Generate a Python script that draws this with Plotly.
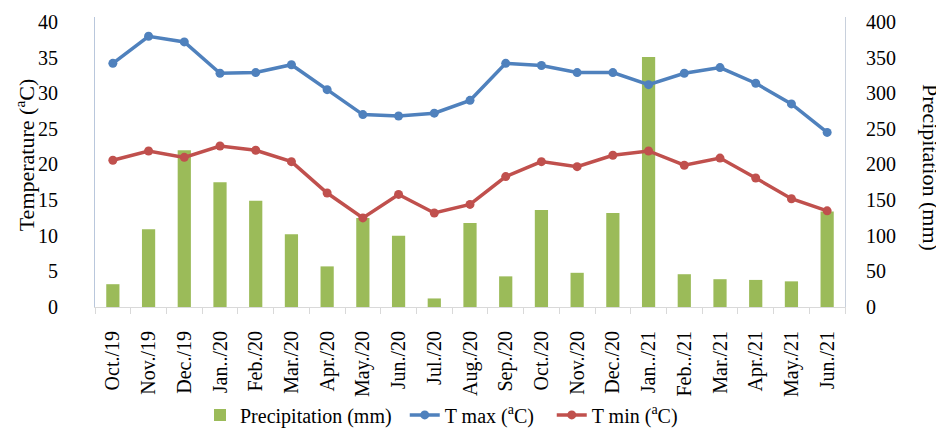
import plotly.graph_objects as go

months = ["Oct./19", "Nov./19", "Dec./19", "Jan../20", "Feb./20", "Mar./20", "Apr./20",
          "May./20", "Jun./20", "Jul./20", "Aug./20", "Sep./20", "Oct./20", "Nov./20",
          "Dec./20", "Jan../21", "Feb../21", "Mar./21", "Apr./21", "May./21", "Jun./21"]
precip = [32, 109, 220, 175, 149, 102, 57, 125, 100, 12, 118, 43, 136, 48, 132, 351,
          46, 39, 38, 36, 134]
tmax = [34.2, 38.0, 37.2, 32.8, 32.9, 34.0, 30.5, 27.0, 26.8, 27.2, 29.0, 34.2, 33.9,
        32.9, 32.9, 31.2, 32.8, 33.6, 31.4, 28.5, 24.5]
tmin = [20.6, 21.9, 21.0, 22.6, 22.0, 20.4, 16.0, 12.5, 15.8, 13.2, 14.4, 18.3, 20.4,
        19.7, 21.3, 21.9, 19.9, 20.9, 18.1, 15.2, 13.5]
temp_ticks = [0, 5, 10, 15, 20, 25, 30, 35, 40]
precip_ticks = [0, 50, 100, 150, 200, 250, 300, 350, 400]

FONT = "Liberation Serif"

fig = go.Figure()
fig.add_trace(go.Bar(x=months, y=precip, name="Precipitation (mm)",
                     marker=dict(color="#9BBB59", line=dict(width=0)), yaxis="y",
                     legend="legend"))
fig.add_trace(go.Scatter(x=months, y=tmax, name="T max (<sup>a</sup>C)", mode="lines+markers",
                         line=dict(color="#4F81BD", width=3.5),
                         marker=dict(size=9, color="#4F81BD"), yaxis="y2",
                         legend="legend2"))
fig.add_trace(go.Scatter(x=months, y=tmin, name="T min (<sup>a</sup>C)", mode="lines+markers",
                         line=dict(color="#C0504D", width=3.5),
                         marker=dict(size=9, color="#C0504D"), yaxis="y2",
                         legend="legend3"))

leg_common = dict(orientation="h", xanchor="left", y=-0.372, yanchor="middle",
                  font=dict(family=FONT, size=20), bgcolor="rgba(0,0,0,0)")

fig.update_layout(
    # page body has an 8px default margin; figure sized/offset to compensate
    width=936, height=425,
    margin=dict(l=87, r=99, t=9, b=126, autoexpand=False),
    paper_bgcolor="white", plot_bgcolor="white",
    font=dict(family=FONT, size=20, color="black"),
    bargap=0.63,
    showlegend=True,
    legend=dict(x=0.14, **leg_common),
    legend2=dict(x=0.413, **leg_common),
    legend3=dict(x=0.609, **leg_common),
    xaxis=dict(type="category", range=[-0.5, 20.5], tickangle=-90, showline=True,
               linecolor="#D9D9D9", ticks="outside", tickson="boundaries", ticklen=6,
               tickcolor="#D9D9D9", ticklabelstandoff=15, showgrid=False,
               tickfont=dict(size=20), automargin=False),
    yaxis=dict(side="right", range=[0, 407], tickvals=precip_ticks, showgrid=False,
               showline=True, linecolor="#C8D0DC", ticks="", zeroline=False,
               ticklabelstandoff=16, automargin=False),
    yaxis2=dict(side="left", overlaying="y", range=[0, 40.7], tickvals=temp_ticks,
                showgrid=False, showline=True, linecolor="#B9C7DC", ticks="",
                zeroline=False, ticklabelstandoff=32, automargin=False),
    annotations=[
        dict(text="Temperature (<sup>a</sup>C)", xref="paper", yref="paper",
             x=-0.093, y=0.524, xanchor="center", yanchor="middle", textangle=-90,
             showarrow=False, font=dict(family=FONT, size=22)),
        dict(text="Precipitation (mm)", xref="paper", yref="paper",
             x=1.113, y=0.48, xanchor="center", yanchor="middle", textangle=90,
             showarrow=False, font=dict(family=FONT, size=22)),
    ],
)

fig.write_html("out.html")
